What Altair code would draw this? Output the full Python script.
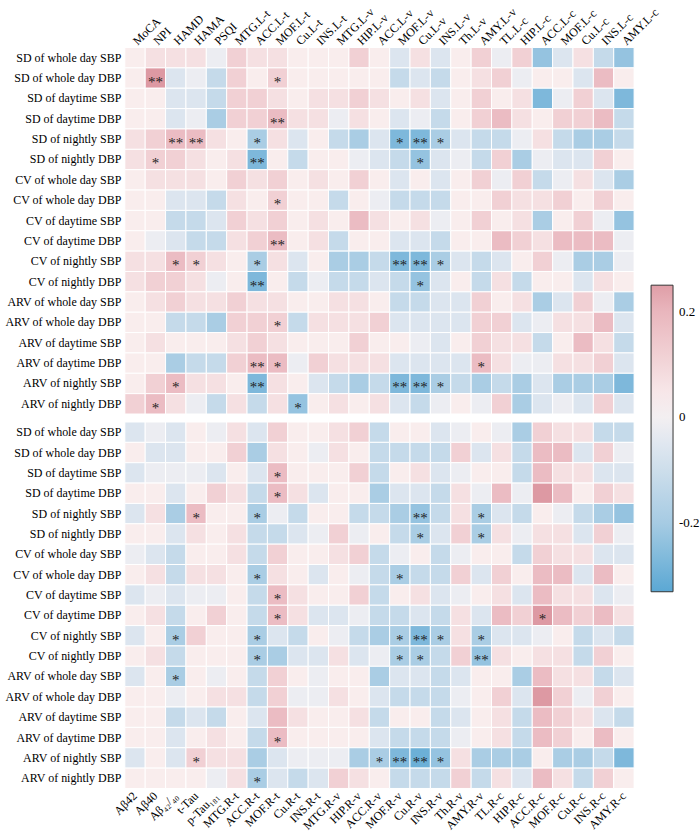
import altair as alt
import pandas as pd

rows = ["SD of whole day SBP", "SD of whole day DBP", "SD of daytime SBP", "SD of daytime DBP",
        "SD of nightly SBP", "SD of nightly DBP", "CV of whole day SBP", "CV of whole day DBP",
        "CV of daytime SBP", "CV of daytime DBP", "CV of nightly SBP", "CV of nightly DBP",
        "ARV of whole day SBP", "ARV of whole day DBP", "ARV of daytime SBP", "ARV of daytime DBP",
        "ARV of nightly SBP", "ARV of nightly DBP"]

top_cols = ["MoCA", "NPI", "HAMD", "HAMA", "PSQI", "MTG.L-t", "ACC.L-t", "MOF.L-t", "Cu.L-t", "INS.L-t",
            "MTG.L-v", "HIP.L-v", "ACC.L-v", "MOF.L-v", "Cu.L-v", "INS.L-v", "Th.L-v", "AMY.L-v",
            "TL.L-c", "HIP.L-c", "ACC.L-c", "MOF.L-c", "Cu.L-c", "INS.L-c", "AMY.L-c"]

bottom_cols = ["Aβ42", "Aβ40", "Aβ₄₂/₄₀", "t-Tau", "p-Tau₁₈₁", "MTG.R-t", "ACC.R-t", "MOF.R-t", "Cu.R-t",
               "INS.R-t", "MTG.R-v", "HIP.R-v", "ACC.R-v", "MOF.R-v", "Cu.R-v", "INS.R-v", "Th.R-v",
               "AMY.R-v", "TL.R-c", "HIP.R-c", "ACC.R-c", "MOF.R-c", "Cu.R-c", "INS.R-c", "AMY.R-c"]

top_values = [
    [0.03, 0.07, 0.07, 0.07, -0.02, 0.12, 0.07, 0.07, 0.03, 0.03, 0.03, 0.12, 0.03, -0.06, 0.07, -0.06, 0.03, 0.12, -0.02, 0.12, -0.23, -0.06, 0.07, -0.12, -0.23],
    [0.03, 0.26, -0.06, -0.02, -0.12, 0.12, 0.03, 0.12, 0.03, 0.03, 0.03, 0.03, 0.03, -0.12, -0.06, -0.12, 0.03, 0.07, 0.12, -0.02, 0.03, 0.03, -0.06, 0.18, 0.03],
    [0.03, 0.03, -0.06, -0.06, -0.12, 0.12, 0.12, 0.07, 0.03, 0.07, 0.07, 0.12, 0.07, 0.03, 0.07, -0.06, 0.03, 0.12, 0.03, 0.07, -0.27, -0.02, 0.12, -0.06, -0.27],
    [0.03, 0.03, -0.06, -0.02, -0.19, 0.12, 0.12, 0.18, 0.07, 0.07, -0.02, 0.07, 0.03, -0.06, -0.02, -0.12, 0.03, 0.12, 0.18, 0.07, 0.03, 0.12, 0.12, 0.18, -0.12],
    [0.07, 0.12, 0.18, 0.18, 0.07, 0.03, -0.19, 0.07, -0.06, 0.03, -0.12, -0.19, -0.06, -0.27, -0.27, -0.19, -0.06, -0.12, -0.12, -0.02, 0.07, -0.12, -0.19, -0.19, -0.12],
    [0.07, 0.12, 0.12, 0.07, 0.03, 0.07, -0.27, 0.03, -0.12, 0.03, 0.03, -0.02, -0.06, -0.12, -0.23, -0.06, -0.02, -0.12, 0.12, -0.19, -0.02, -0.06, -0.06, 0.12, 0.03],
    [0.03, 0.07, 0.07, 0.07, 0.03, 0.12, 0.07, 0.12, 0.03, 0.07, 0.03, 0.12, 0.03, -0.06, 0.03, -0.06, 0.03, 0.12, -0.02, 0.12, -0.12, -0.02, 0.07, -0.06, -0.19],
    [0.03, 0.03, -0.06, -0.06, -0.12, 0.07, 0.03, 0.12, 0.03, 0.03, -0.12, 0.03, -0.02, -0.12, -0.12, -0.12, 0.03, 0.03, 0.12, 0.07, 0.07, 0.12, 0.03, 0.12, 0.03],
    [0.03, 0.03, -0.12, -0.12, -0.06, 0.12, 0.07, 0.12, 0.03, 0.07, 0.03, 0.18, 0.07, 0.03, 0.07, -0.02, 0.03, 0.12, 0.03, 0.07, -0.19, 0.03, 0.12, -0.02, -0.23],
    [0.03, -0.02, -0.06, -0.12, -0.12, 0.07, 0.12, 0.18, 0.03, 0.07, -0.12, 0.03, 0.03, -0.06, -0.06, -0.12, 0.03, 0.03, 0.18, 0.12, 0.07, 0.18, 0.18, 0.18, -0.02],
    [0.07, 0.07, 0.18, 0.12, 0.07, 0.03, -0.19, 0.07, -0.06, 0.03, -0.19, -0.19, -0.12, -0.27, -0.27, -0.19, -0.06, -0.12, -0.06, 0.03, 0.12, -0.02, -0.19, -0.19, -0.02],
    [0.07, 0.12, 0.12, 0.07, -0.02, 0.03, -0.27, 0.03, -0.12, -0.02, -0.12, -0.12, -0.06, -0.12, -0.23, -0.06, 0.03, -0.12, 0.07, -0.12, 0.03, 0.03, -0.06, 0.07, 0.03],
    [0.03, 0.07, 0.12, 0.07, 0.07, 0.12, 0.07, 0.07, 0.03, 0.03, 0.07, 0.07, 0.03, -0.12, -0.12, -0.06, -0.06, 0.12, 0.03, 0.07, -0.19, -0.06, 0.12, -0.02, -0.19],
    [0.03, 0.03, -0.12, -0.12, -0.19, 0.12, 0.12, 0.12, -0.12, 0.07, 0.07, 0.07, 0.12, -0.06, -0.06, -0.06, -0.06, 0.12, 0.12, -0.06, -0.02, 0.07, 0.07, 0.18, -0.06],
    [0.03, 0.07, 0.03, 0.03, 0.03, 0.07, 0.12, 0.07, 0.03, 0.03, 0.03, 0.12, 0.03, 0.03, -0.02, -0.06, 0.03, 0.12, 0.07, 0.07, -0.12, 0.03, 0.18, 0.07, -0.12],
    [0.03, 0.03, -0.19, -0.12, -0.12, 0.12, 0.18, 0.18, -0.02, 0.12, 0.07, 0.07, 0.07, -0.06, -0.06, -0.06, -0.06, 0.18, 0.07, -0.02, -0.02, 0.07, 0.07, 0.12, -0.06],
    [0.03, 0.12, 0.18, 0.07, 0.07, 0.03, -0.27, 0.07, 0.03, -0.06, -0.12, -0.19, -0.12, -0.27, -0.27, -0.19, -0.12, -0.19, -0.12, -0.19, -0.06, -0.19, -0.19, -0.19, -0.27],
    [0.12, 0.18, 0.07, -0.02, -0.12, 0.07, -0.12, 0.07, -0.23, 0.03, 0.07, 0.03, 0.07, -0.06, -0.12, -0.02, 0.03, -0.02, 0.12, -0.19, -0.06, -0.02, -0.06, 0.12, -0.06],
]

bottom_values = [
    [-0.06, -0.02, -0.06, 0.03, -0.02, 0.07, -0.06, 0.12, 0.03, 0.03, 0.07, 0.12, -0.12, 0.03, 0.03, -0.06, -0.02, 0.03, -0.02, -0.19, 0.12, 0.07, 0.07, -0.12, -0.12],
    [0.03, -0.06, -0.06, 0.03, 0.03, 0.12, -0.19, 0.07, 0.03, -0.02, 0.07, 0.03, -0.12, -0.12, -0.12, -0.12, 0.12, -0.06, 0.07, -0.12, 0.18, 0.18, -0.06, 0.12, -0.02],
    [-0.06, -0.02, -0.02, -0.02, -0.06, 0.03, -0.06, 0.18, 0.03, 0.03, 0.03, 0.12, -0.12, 0.03, 0.07, -0.06, -0.02, 0.03, 0.03, -0.12, 0.18, 0.07, 0.07, -0.06, -0.06],
    [0.03, 0.03, -0.06, 0.03, 0.12, 0.07, -0.12, 0.18, 0.07, -0.06, 0.03, 0.03, -0.19, -0.06, -0.06, -0.12, 0.07, -0.02, 0.18, -0.02, 0.26, 0.18, 0.03, 0.12, 0.07],
    [-0.06, 0.07, -0.19, 0.18, 0.03, 0.03, -0.19, -0.02, -0.12, 0.03, 0.03, -0.12, -0.12, -0.19, -0.23, -0.12, 0.07, -0.19, -0.06, -0.12, 0.03, -0.02, -0.12, -0.19, -0.23],
    [0.03, 0.03, -0.06, 0.07, 0.03, 0.07, -0.12, -0.12, -0.06, -0.02, 0.12, -0.02, 0.03, -0.12, -0.19, -0.06, 0.12, -0.19, 0.07, -0.02, 0.07, 0.07, -0.06, 0.12, -0.02],
    [-0.02, -0.06, -0.12, 0.03, 0.03, 0.07, -0.12, 0.12, 0.03, 0.03, 0.07, 0.12, -0.12, -0.02, 0.03, -0.12, -0.02, 0.03, 0.03, -0.12, 0.12, 0.07, 0.07, -0.06, -0.06],
    [0.03, 0.07, -0.12, 0.07, 0.07, 0.03, -0.19, 0.07, 0.03, -0.06, 0.03, -0.02, -0.12, -0.19, -0.12, -0.12, 0.12, -0.06, 0.12, 0.03, 0.18, 0.18, -0.06, 0.18, 0.03],
    [-0.06, -0.02, -0.06, -0.02, -0.02, 0.03, -0.12, 0.18, 0.07, 0.03, 0.03, 0.12, -0.12, 0.03, 0.07, -0.06, -0.02, 0.03, 0.07, -0.06, 0.18, 0.07, 0.07, -0.06, -0.02],
    [0.03, 0.07, -0.12, 0.03, 0.12, 0.03, -0.12, 0.18, 0.07, -0.06, -0.06, -0.02, -0.12, -0.12, -0.06, -0.12, 0.07, -0.06, 0.18, 0.12, 0.26, 0.18, 0.12, 0.18, 0.07],
    [-0.06, 0.03, -0.19, 0.12, 0.03, 0.03, -0.19, -0.06, -0.12, 0.03, -0.02, -0.12, -0.19, -0.19, -0.27, -0.19, 0.07, -0.19, -0.06, -0.06, -0.02, 0.03, -0.12, -0.06, -0.12],
    [0.03, 0.07, -0.12, 0.03, 0.03, 0.03, -0.19, -0.19, -0.06, -0.06, 0.07, -0.06, -0.02, -0.19, -0.19, -0.12, 0.12, -0.23, 0.07, 0.03, 0.07, 0.07, -0.12, 0.12, 0.03],
    [-0.06, 0.03, -0.19, 0.03, -0.02, 0.03, -0.12, 0.12, 0.03, -0.02, 0.03, 0.03, -0.19, -0.06, -0.06, -0.12, -0.06, 0.03, 0.03, -0.19, 0.18, 0.07, 0.07, -0.12, -0.06],
    [0.03, 0.03, -0.02, 0.03, 0.07, 0.07, -0.12, 0.12, -0.02, -0.02, 0.07, 0.03, -0.06, -0.12, -0.12, -0.12, -0.02, 0.03, 0.12, -0.06, 0.26, 0.12, -0.02, 0.12, 0.03],
    [0.03, 0.03, -0.12, -0.06, -0.12, 0.03, -0.06, 0.18, 0.07, 0.03, 0.03, 0.07, -0.12, 0.03, 0.03, -0.12, -0.06, 0.03, 0.07, -0.12, 0.18, 0.12, 0.07, -0.06, -0.12],
    [0.03, 0.03, -0.06, 0.03, 0.07, 0.03, -0.12, 0.18, 0.03, 0.03, 0.03, 0.03, -0.06, -0.12, -0.12, -0.12, -0.02, 0.03, 0.07, -0.12, 0.18, 0.12, 0.03, 0.18, 0.03],
    [-0.06, 0.03, -0.06, 0.12, 0.07, 0.07, -0.19, -0.06, -0.02, -0.02, -0.02, -0.19, -0.19, -0.27, -0.30, -0.23, 0.07, -0.19, -0.19, -0.19, 0.03, -0.19, -0.19, -0.12, -0.27],
    [0.03, 0.03, 0.03, 0.03, -0.02, 0.07, -0.19, -0.06, -0.12, -0.06, 0.12, 0.07, 0.03, -0.12, -0.12, -0.12, 0.12, -0.12, 0.07, -0.06, 0.18, 0.07, -0.12, 0.12, 0.03],
]

# (row index, column index, significance mark)
top_stars = [
    (1, 1, "**"), (1, 7, "*"),
    (3, 7, "**"),
    (4, 2, "**"), (4, 3, "**"), (4, 6, "*"), (4, 13, "*"), (4, 14, "**"), (4, 15, "*"),
    (5, 1, "*"), (5, 6, "**"), (5, 14, "*"),
    (7, 7, "*"),
    (9, 7, "**"),
    (10, 2, "*"), (10, 3, "*"), (10, 6, "*"), (10, 13, "**"), (10, 14, "**"), (10, 15, "*"),
    (11, 6, "**"), (11, 14, "*"),
    (13, 7, "*"),
    (15, 6, "**"), (15, 7, "*"), (15, 17, "*"),
    (16, 2, "*"), (16, 6, "**"), (16, 13, "**"), (16, 14, "**"), (16, 15, "*"),
    (17, 1, "*"), (17, 8, "*"),
]

bottom_stars = [
    (2, 7, "*"),
    (3, 7, "*"),
    (4, 3, "*"), (4, 6, "*"), (4, 14, "**"), (4, 17, "*"),
    (5, 14, "*"), (5, 17, "*"),
    (7, 6, "*"), (7, 13, "*"),
    (8, 7, "*"),
    (9, 7, "*"), (9, 20, "*"),
    (10, 2, "*"), (10, 6, "*"), (10, 13, "*"), (10, 14, "**"), (10, 15, "*"), (10, 17, "*"),
    (11, 6, "*"), (11, 13, "*"), (11, 14, "*"), (11, 17, "**"),
    (12, 2, "*"),
    (15, 7, "*"),
    (16, 3, "*"), (16, 12, "*"), (16, 13, "**"), (16, 14, "**"), (16, 15, "*"),
    (17, 6, "*"),
]

legend_values = [-0.2, 0, 0.2]

FONT = "Liberation Serif"


def make_df(values, cols, stars):
    smap = {(r, c): s for r, c, s in stars}
    recs = []
    for i, rl in enumerate(rows):
        for j, cl in enumerate(cols):
            recs.append({"row": rl, "col": cl, "value": values[i][j], "star": smap.get((i, j), "")})
    return pd.DataFrame(recs)


color_scale = alt.Scale(
    domain=[-0.33, -0.2, -0.02, 0.02, 0.2, 0.25],
    range=["#5ba8d4", "#a6cbe3", "#ecedf2", "#faf0f0", "#e9b6bd", "#df9ea7"],
    interpolate="rgb",
)

legend = alt.Legend(
    title=None, orient="none", legendX=527, legendY=238, direction="vertical",
    gradientLength=307, gradientThickness=22, gradientStrokeColor="#333",
    gradientStrokeWidth=1, values=legend_values,
    labelExpr="datum.value > 0.1 ? '0.2' : (datum.value < -0.1 ? '-0.2' : '0')",
    labelFont=FONT, labelFontSize=13, labelColor="black", labelOffset=6,
)


def block(values, cols, stars, orient):
    df = make_df(values, cols, stars)
    base = alt.Chart(df)
    x = alt.X("col:N", sort=cols, title=None,
              axis=alt.Axis(orient=orient, labelAngle=-45,
                            labelAlign="left" if orient == "top" else "right",
                            labelBaseline="middle", ticks=False, domain=False,
                            labelPadding=5, labelFont=FONT, labelFontSize=12,
                            labelColor="black"))
    y = alt.Y("row:N", sort=rows, title=None,
              axis=alt.Axis(ticks=False, domain=False, labelPadding=4,
                            labelFont=FONT, labelFontSize=12, labelColor="black"))
    rect = base.mark_rect(stroke="white", strokeWidth=1).encode(
        x=x, y=y,
        color=alt.Color("value:Q", scale=color_scale, legend=legend),
    )
    text = base.mark_text(font=FONT, fontSize=15, color="#1f1f1f", baseline="middle", dy=4).encode(
        x=x, y=y, text="star:N"
    ).transform_filter("datum.star != ''")
    return (rect + text).properties(width=510, height=367)


top = block(top_values, top_cols, top_stars, "top")
bottom = block(bottom_values, bottom_cols, bottom_stars, "bottom")

chart = alt.vconcat(top, bottom, spacing=5).configure_view(stroke=None).properties(
    background="white", padding={"left": 4, "top": 4, "right": 0, "bottom": 0}
)

chart.save("out.html", embed_options={"renderer": "svg", "actions": False})
